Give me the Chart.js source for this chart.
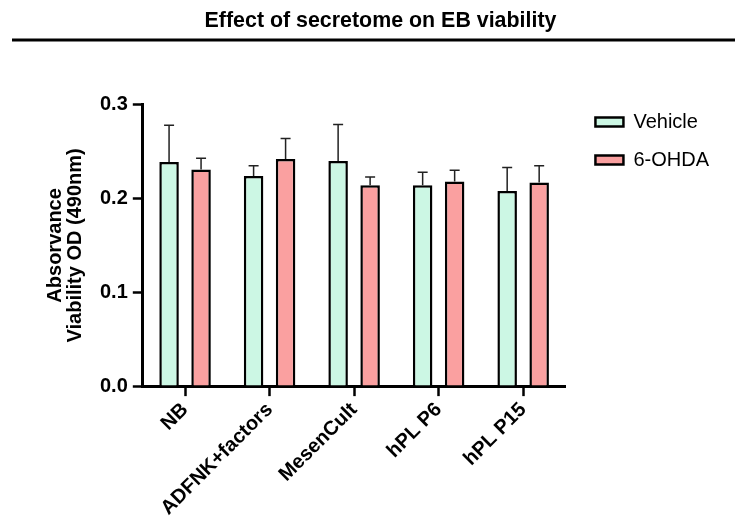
<!DOCTYPE html>
<html>
<head>
<meta charset="utf-8">
<script src="https://cdn.jsdelivr.net/npm/chart.js@4/dist/chart.umd.min.js"></script>
<style>
html, body { margin: 0; padding: 0; background: #fff; }
</style>
</head>
<body>
<canvas id="chart" width="735" height="524"></canvas>
<script>
// Values (mean and upper error).
var categories = ["NB", "ADFNK+factors", "MesenCult", "hPL P6", "hPL P15"];
var vehicleMean = [0.239, 0.224, 0.240, 0.214, 0.208];
var vehicleErr = [0.039, 0.011, 0.039, 0.014, 0.025];
var ohdaMean = [0.231, 0.242, 0.214, 0.218, 0.217];
var ohdaErr = [0.012, 0.022, 0.009, 0.012, 0.018];
var yMin = 0, yMax = 0.3, yStep = 0.1;

Chart.defaults.font.family = "'Liberation Sans', Arial, sans-serif";
Chart.defaults.color = "#000";

// Upper error bars, drawn from each bar top.
var errorBars = {
    id: "errorBars",
    afterDatasetsDraw: function(chart) {
        var ctx = chart.ctx;
        var yScale = chart.scales.y;
        ctx.save();
        ctx.strokeStyle = "#222";
        ctx.lineWidth = 1.5;
        chart.data.datasets.forEach(function(ds, i) {
            var meta = chart.getDatasetMeta(i);
            meta.data.forEach(function(bar, j) {
                var top = yScale.getPixelForValue(ds.data[j] + ds.errors[j]);
                ctx.beginPath();
                ctx.moveTo(bar.x, bar.y);
                ctx.lineTo(bar.x, top);
                ctx.moveTo(bar.x - 5, top);
                ctx.lineTo(bar.x + 5, top);
                ctx.stroke();
            });
        });
        ctx.restore();
    }
};

// Rule under the title, and legend placed beside the plot top.
var titleRule = {
    id: "titleRule",
    afterLayout: function(chart) {
        var lg = chart.legend;
        var h = lg.bottom - lg.top;
        lg.left += 12;
        lg.right += 12;
        lg.top = 94;
        lg.bottom = 94 + h;
        chart.titleBlock.left += 7;
        chart.titleBlock.right += 7;
    },
    afterDraw: function(chart) {
        var ctx = chart.ctx;
        ctx.save();
        ctx.strokeStyle = "#000";
        ctx.lineWidth = 3;
        ctx.beginPath();
        ctx.moveTo(12, 40);
        ctx.lineTo(735, 40);
        ctx.stroke();
        ctx.restore();
    }
};

var config = {
    type: "bar",
    data: {
        labels: categories,
        datasets: [{
            label: "Vehicle",
            data: vehicleMean,
            errors: vehicleErr,
            backgroundColor: "rgb(204, 247, 228)",
            borderColor: "#000",
            borderWidth: 2.5
        }, {
            label: "6-OHDA",
            data: ohdaMean,
            errors: ohdaErr,
            backgroundColor: "rgb(250, 160, 160)",
            borderColor: "#000",
            borderWidth: 2.5
        }]
    },
    options: {
        responsive: false,
        animation: false,
        devicePixelRatio: 1,
        layout: { padding: { left: 40, right: 28, bottom: 2, top: 0 } },
        datasets: {
            bar: { barPercentage: 0.61, categoryPercentage: 0.757 }
        },
        plugins: {
            title: {
                display: true,
                text: "Effect of secretome on EB viability",
                font: { size: 21.4, weight: "bold" },
                padding: { top: 8, bottom: 71 }
            },
            legend: {
                position: "right",
                align: "start",
                labels: {
                    boxWidth: 28,
                    boxHeight: 9,
                    padding: 18,
                    font: { size: 20 }
                }
            },
            tooltip: { enabled: false }
        },
        scales: {
            x: {
                grid: { drawOnChartArea: false, offset: false, tickLength: 10, tickWidth: 2.5, tickColor: "#000" },
                border: { color: "#000", width: 3 },
                ticks: { font: { size: 20, weight: "bold" }, maxRotation: 45, minRotation: 45, padding: 2 }
            },
            y: {
                min: yMin,
                max: yMax,
                grid: { drawOnChartArea: false, tickLength: 10, tickWidth: 2.5, tickColor: "#000" },
                border: { color: "#000", width: 3 },
                ticks: {
                    stepSize: yStep,
                    padding: 5,
                    font: { size: 20, weight: "bold" },
                    callback: function(v) { return v.toFixed(1); }
                },
                title: {
                    display: true,
                    text: ["Absorvance", "Viability OD (490nm)"],
                    font: { size: 20, weight: "bold", lineHeight: 1.0 },
                    padding: { top: 5, bottom: 10 }
                }
            }
        }
    },
    plugins: [errorBars, titleRule]
};

var chart = new Chart(document.getElementById("chart").getContext("2d"), config);
</script>
</body>
</html>
